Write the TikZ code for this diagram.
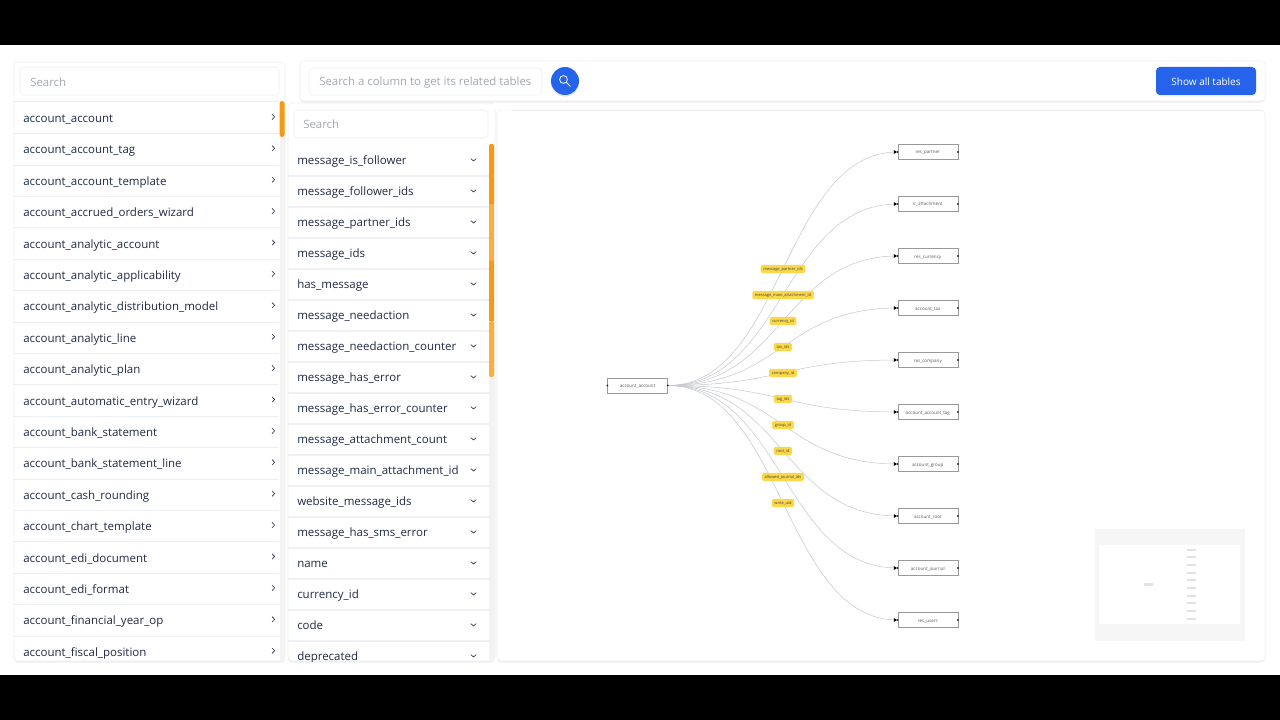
\documentclass[tikz,border=0pt]{standalone}
\usepackage{fontspec}
\setmainfont{Open Sans}
\usetikzlibrary{shadows,arrows.meta}
\definecolor{ink}{HTML}{1F2A44}
\definecolor{hint}{HTML}{A3A8B0}
\definecolor{rule}{HTML}{EDEEF0}
\definecolor{track}{HTML}{F3F3F3}
\definecolor{orangeA}{HTML}{F59A12}
\definecolor{orangeB}{HTML}{F9AE3F}
\definecolor{blueA}{HTML}{2563EB}
\definecolor{tag}{HTML}{FBD74A}
\definecolor{edgec}{HTML}{C6C8CE}
\definecolor{mapbg}{HTML}{F6F6F6}
\definecolor{mapbar}{HTML}{E2E2E2}
\tikzset{
  panel/.style={fill=white,draw=rule,line width=.4pt,rounded corners=3pt,drop shadow={opacity=.13,shadow xshift=0pt,shadow yshift=-1.2pt}},
  searchbox/.style={draw=rule,fill=white,line width=.4pt,rounded corners=3pt},
  hinttext/.style={text=hint,font=\fontsize{8.55}{10}\selectfont,anchor=west,inner sep=0pt},
  rowtext/.style={text=ink,font=\fontsize{8.62}{10}\selectfont,anchor=west,inner sep=0pt,text height=7pt,text depth=2pt},
  chev/.style={draw=ink,line width=.45pt},
  tbl/.style={draw=black!40,fill=white,line width=.35pt,minimum width=45pt,minimum height=11.25pt,inner sep=0pt,text=black!65,font=\fontsize{3.4}{4}\selectfont,text height=3pt,text depth=0pt},
  lbl/.style={fill=tag,rounded corners=1.2pt,inner xsep=2pt,inner ysep=1.4pt,text=black!75,font=\fontsize{3}{4}\selectfont,text height=2.6pt,text depth=.8pt},
  edgeline/.style={draw=edgec,line width=.38pt},
  dot/.style={circle,fill=black!85,inner sep=0pt,minimum size=1.6pt},
  tip/.style={fill=black,draw=none},
  mapbarline/.style={fill=mapbar,draw=none},
}
\begin{document}
\begin{tikzpicture}[x=.75pt,y=-.75pt]
\useasboundingbox (0,0) rectangle (1280,720);
\fill[white] (0,0) rectangle (1280,720);
\fill[black] (0,0) rectangle (1280,45);
\fill[black] (0,675) rectangle (1280,720);

% main panels
\path[panel] (497,110) rectangle (1265,661);
\path[panel] (300,61) rectangle (1265,101);
\path[panel] (14,62) rectangle (285,661);

% top bar
\path[searchbox] (309,68) rectangle (542,95);
\node[hinttext] (columnsearch) at (319,82.4) {Search a column to get its related tables};
\node[circle,fill=blueA,minimum size=21pt,inner sep=0pt,drop shadow={opacity=.2,shadow xshift=0pt,shadow yshift=-1.2pt}] (searchbtn) at (565,81) {};
\draw[white,line width=.6pt] (563.5,79.5) circle (3.9);
\draw[white,line width=.7pt,line cap=round] (566.4,82.4) -- (570.3,86.3);
\node[fill=blueA,text=white,rounded corners=3pt,minimum width=75pt,minimum height=21pt,inner sep=0pt,font=\fontsize{7.5}{10}\selectfont,text height=7pt,text depth=0pt,drop shadow={opacity=.15,shadow xshift=0pt,shadow yshift=-1pt}] (showall) at (1206,81) {Show all tables};

% left list
\path[searchbox] (20,67) rectangle (279,95);
\node[hinttext] (tablesearch) at (30,82) {Search};
\begin{scope}
\clip (14,101) rectangle (285,661);
\fill[track] (279.5,101) rectangle (285,661);
\draw[rule,line width=.5pt] (14,101.5) -- (279,101.5);
\foreach \t [count=\i from 0] in {account\_account,account\_account\_tag,account\_account\_template,account\_accrued\_orders\_wizard,account\_analytic\_account,account\_analytic\_applicability,account\_analytic\_distribution\_model,account\_analytic\_line,account\_analytic\_plan,account\_automatic\_entry\_wizard,account\_bank\_statement,account\_bank\_statement\_line,account\_cash\_rounding,account\_chart\_template,account\_edi\_document,account\_edi\_format,account\_financial\_year\_op,account\_fiscal\_position}{
  \pgfmathsetmacro{\yy}{118.2+31.4*\i}
  \node[rowtext] (L\i) at (23,\yy+.9) {\t};
  \draw[chev] (272,\yy-4) -- (274.6,\yy-1.3) -- (272,\yy+1.4);
  \draw[rule,line width=.5pt] (14,\yy+15.4) -- (279,\yy+15.4);
}
\fill[orangeA] (279.5,101) [rounded corners=2pt] rectangle (284.5,137);
\end{scope}

% middle list
\path[panel] (288,103) rectangle (495,661);
\fill[white] (470,103.6) rectangle (512,109.6);
\fill[white] (289,103.6) rectangle (494.5,110);
\draw[rule,line width=.4pt] (512,110) -- (1262,110);
\path[searchbox] (294,110) rectangle (488,138);
\node[hinttext] (columnfilter) at (303,124.4) {Search};
\begin{scope}
\clip (288,144) rectangle (495,661);
\fill[track] (489,144) rectangle (495,661);
\foreach \t [count=\i from 0] in {message\_is\_follower,message\_follower\_ids,message\_partner\_ids,message\_ids,has\_message,message\_needaction,message\_needaction\_counter,message\_has\_error,message\_has\_error\_counter,message\_attachment\_count,message\_main\_attachment\_id,website\_message\_ids,message\_has\_sms\_error,name,currency\_id,code,deprecated}{
  \pgfmathsetmacro{\yy}{160.6+31*\i}
  \node[rowtext] (M\i) at (297,\yy+.9) {\t};
  \draw[chev] (470.8,\yy-2) -- (473.5,\yy+.4) -- (476.2,\yy-2);
  \fill[rule!80] (288,\yy+14.6) rectangle (489,\yy+16.2);
}
\fill[orangeA,rounded corners=1.5pt] (489,144) rectangle (494,206);
\fill[orangeB] (489,204) rectangle (494,261);
\fill[orangeA] (489,261) rectangle (494,321);
\fill[orangeB,rounded corners=1.5pt] (489,321) rectangle (494,377);
\end{scope}

% diagram tables
\node[tbl] (account) at (637.6,385.5) {account\_account};
\foreach \n/\t/\y in {a/res\_partner/152,b/ir\_attachment/204,c/res\_currency/256,d/account\_tax/308,e/res\_company/360,f/account\_account\_tag/412,g/account\_group/464,h/account\_root/516,i/account\_journal/568,j/res\_users/620}{
  \node[tbl] (\n) at (927.8,\y) {\t};
  \draw[edgeline] (account.east) .. controls (783,385.5) and (783,\y) .. (\n.west);
  \fill[tip] (893.8,\y-2) -- (897,\y) -- (893.8,\y+2) -- cycle;
  \node[dot] at (\n.west) {};
  \node[dot] at (\n.east) {};
}
\node[dot] (srcdot) at (account.east) {};
\node[dot] (tgtdot) at (account.west) {};

% edge labels
\foreach \t/\y in {message\_partner\_ids/269,message\_main\_attachment\_id/295,currency\_id/321,tax\_ids/347,company\_id/373,tag\_ids/399,group\_id/425,root\_id/451,allowed\_journal\_ids/477,write\_uid/503}{
  \node[lbl] at (783,\y) {\t};
}

% minimap
\fill[mapbg] (1095,529) rectangle (1245,641);
\fill[white] (1099,545) rectangle (1240,624);
\fill[mapbarline] (1144,583) rectangle (1153,586);
\foreach \i in {0,...,9}{
  \fill[mapbarline] (1187,548.6+7.68*\i) rectangle (1196,550.6+7.68*\i);
}
\end{tikzpicture}
\end{document}
